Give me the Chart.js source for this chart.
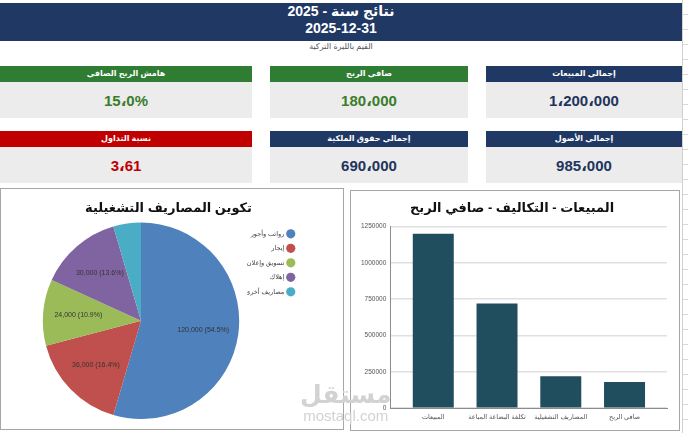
<!DOCTYPE html>
<html lang="ar">
<head>
<meta charset="UTF-8">
<title>نتائج سنة - 2025</title>
<script src="https://cdn.jsdelivr.net/npm/chart.js"></script>
<style>
    body { margin: 0; width: 688px; height: 433px; background: #fff; position: relative; overflow: hidden;
           font-family: "Liberation Sans", Arial, "DejaVu Sans", sans-serif; }
    .band { position: absolute; left: 0; top: 3px; width: 682px; height: 38px; background: #1f3864; color: #fff;
            text-align: center; font-weight: bold; font-size: 14px; line-height: 17px; padding-top: 0; box-sizing: border-box; }
    .sub { position: absolute; left: 0; width: 682px; top: 42px; text-align: center; font-size: 8px; color: #555; }
    .card { position: absolute; }
    .card .hd { height: 16px; line-height: 16px; color: #fff; font-weight: bold; font-size: 8px; text-align: center; }
    .card .val { height: 36px; line-height: 37px; background: #ececec; font-weight: bold; font-size: 15px; text-align: center; }
    .panel { position: absolute; border: 1px solid #a6a6a6; background: #fff; }
    .panel canvas { display: block; }
    .sheet { position: absolute; left: 682px; top: 0; width: 6px; height: 433px; border-left: 1px solid #d0d0d0;
             background: repeating-linear-gradient(to bottom, transparent 0, transparent 14px, #d8d8d8 14px, #d8d8d8 15px); }
    .mark { position: absolute; left: 300px; top: 379px; color: #d2d2d2; text-align: center; z-index: 5; }
</style>
</head>
<body>
<div class="band">نتائج سنة - 2025<br>2025-12-31</div>
<div class="sub">القيم بالليرة التركية</div>
<div id="cards"></div>
<div class="sheet"></div>

<div class="panel" style="left:0; top:188px; width:342px; height:240px;">
    <canvas id="expenseChart"></canvas>
</div>
<div class="panel" style="left:350px; top:190px; width:328px; height:239px;">
    <canvas id="summaryChart"></canvas>
</div>
<div class="mark"><div style="font-size:25px;font-weight:bold;line-height:30px;">مستقل</div><div style="font-size:15px;line-height:14px;">mostaql.com</div></div>

<script>
// بطاقات المؤشرات
const kpiTitles = ['إجمالي المبيعات', 'صافي الربح', 'هامش الربح الصافي', 'إجمالي الأصول', 'إجمالي حقوق الملكية', 'نسبة التداول'];
const kpiValues = ['1،200،000', '180،000', '15،0%', '985،000', '690،000', '3،61'];

// تكوين المصاريف التشغيلية
const expenseLabels = ['رواتب وأجور', 'إيجار', 'تسويق وإعلان', 'إهلاك', 'مصاريف أخرى'];
const expenseValues = [120000, 36000, 24000, 30000, 10000];
const expenseColors = ['#4f81bd', '#c0504d', '#9bbb59', '#8064a2', '#4bacc6'];

// المبيعات - التكاليف - صافي الربح
const summaryLabels = ['المبيعات', 'تكلفة البضاعة المباعة', 'المصاريف التشغيلية', 'صافي الربح'];
const summaryValues = [1200000, 720000, 220000, 180000];
const summaryTicks = [0, 250000, 500000, 750000, 1000000, 1250000];

const navy = '#1f3864', green = '#2e7d32', red = '#c00000';
const cardStyle = [
    { left: 486, top: 66, w: 196, head: navy, color: '#22345c' },
    { left: 270, top: 66, w: 198, head: green, color: '#3a7d2c' },
    { left: 0, top: 66, w: 252, head: green, color: '#3a7d2c' },
    { left: 486, top: 131, w: 196, head: navy, color: '#22345c' },
    { left: 270, top: 131, w: 198, head: navy, color: '#22345c' },
    { left: 0, top: 131, w: 252, head: red, color: '#c00000' }
];
const cards = document.getElementById('cards');
kpiTitles.forEach((t, i) => {
    const s = cardStyle[i];
    const d = document.createElement('div');
    d.className = 'card';
    d.style.left = s.left + 'px';
    d.style.top = s.top + 'px';
    d.style.width = s.w + 'px';
    d.innerHTML = '<div class="hd" style="background:' + s.head + '">' + t + '</div>' +
                  '<div class="val" style="color:' + s.color + '">' + kpiValues[i] + '</div>';
    cards.appendChild(d);
});

Chart.defaults.font.family = "'Liberation Sans', Arial, 'DejaVu Sans', sans-serif";
Chart.defaults.color = '#404040';
Chart.defaults.animation = false;

// نص القيم داخل الشرائح
const sliceLabels = {
    id: 'sliceLabels',
    afterDatasetsDraw(chart) {
        const ctx = chart.ctx;
        const data = chart.data.datasets[0].data;
        const total = data.reduce((a, b) => a + b, 0);
        chart.getDatasetMeta(0).data.forEach((arc, i) => {
            const pct = data[i] / total * 100;
            if (pct < 5) return;
            const p = arc.getProps(['x', 'y', 'startAngle', 'endAngle', 'outerRadius'], true);
            const mid = (p.startAngle + p.endAngle) / 2;
            const r = p.outerRadius * 0.64;
            ctx.save();
            ctx.font = '7px ' + Chart.defaults.font.family;
            ctx.fillStyle = '#333';
            ctx.textAlign = 'center';
            ctx.textBaseline = 'middle';
            ctx.fillText(data[i].toLocaleString('en-US') + ' (' + pct.toFixed(1) + '%)',
                p.x + Math.cos(mid) * r, p.y + Math.sin(mid) * r);
            ctx.restore();
        });
    }
};

new Chart(document.getElementById('expenseChart'), {
    type: 'pie',
    data: {
        labels: expenseLabels,
        datasets: [{
            data: expenseValues,
            backgroundColor: expenseColors,
            borderWidth: 0
        }]
    },
    options: {
        responsive: true,
        maintainAspectRatio: false,
        layout: { padding: { top: 4, right: 41, bottom: 10, left: 34 } },
        plugins: {
            title: {
                display: true,
                text: 'تكوين المصاريف التشغيلية',
                font: { size: 13, weight: 'bold' },
                color: '#111',
                padding: { top: 8, bottom: 6 }
            },
            legend: {
                position: 'right',
                align: 'start',
                fullSize: false,
                rtl: true,
                maxWidth: 55,
                labels: {
                    usePointStyle: true,
                    pointStyle: 'circle',
                    boxWidth: 7,
                    boxHeight: 7,
                    padding: 8,
                    font: { size: 6.5 },
                    color: '#404040'
                }
            },
            tooltip: { enabled: false }
        }
    },
    plugins: [sliceLabels]
});

// محور أفقي رقمي حتى تطابق المسافات بين الأعمدة الأصل
new Chart(document.getElementById('summaryChart'), {
    type: 'bar',
    data: {
        datasets: [{
            data: summaryValues.map((v, i) => ({ x: i, y: v })),
            backgroundColor: '#214e5f',
            barPercentage: 0.643,
            categoryPercentage: 1
        }]
    },
    options: {
        responsive: true,
        maintainAspectRatio: false,
        layout: { padding: { top: 3, right: 12, bottom: 4, left: 6 } },
        scales: {
            x: {
                type: 'linear',
                offset: false,
                min: -0.674,
                max: 3.666,
                afterBuildTicks: axis => { axis.ticks = summaryLabels.map((l, i) => ({ value: i })); },
                grid: { display: false, drawTicks: false },
                border: { display: true, color: '#8c8c8c', width: 1 },
                ticks: { font: { size: 6.5 }, color: '#555', padding: 5, maxRotation: 0, autoSkip: false,
                         callback: v => summaryLabels[v] }
            },
            y: {
                min: 0,
                max: summaryTicks[summaryTicks.length - 1],
                afterBuildTicks: axis => { axis.ticks = summaryTicks.map(v => ({ value: v })); },
                grid: { color: '#e0e0e0', lineWidth: 1.5, drawTicks: false },
                border: { display: true, color: '#8c8c8c', width: 1 },
                ticks: { font: { size: 6.5 }, color: '#555', padding: 4, callback: v => v }
            }
        },
        plugins: {
            title: {
                display: true,
                text: 'المبيعات - التكاليف - صافي الربح',
                font: { size: 13, weight: 'bold' },
                color: '#111',
                padding: { top: 7, bottom: 10 }
            },
            legend: { display: false },
            tooltip: { enabled: false }
        }
    }
});
</script>
</body>
</html>
